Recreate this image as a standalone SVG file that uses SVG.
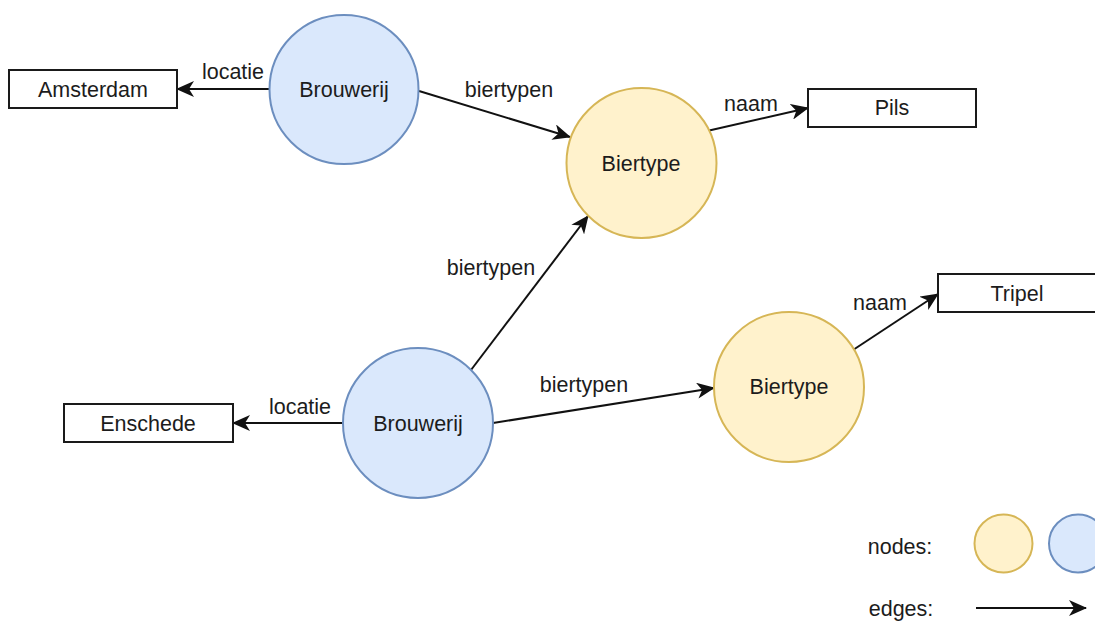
<svg xmlns="http://www.w3.org/2000/svg" width="1095" height="621" viewBox="0 0 1095 621">
  <style>
    text { font-family: "Liberation Sans", Arial, sans-serif; font-size: 21.5px; fill: #1c1c1c; text-anchor: middle; dominant-baseline: central; }
    .brouwerij { fill: #dae8fc; stroke: #6c8ebf; stroke-width: 2; }
    .biertype { fill: #fff2cc; stroke: #d6b656; stroke-width: 2; }
    .value { fill: #ffffff; stroke: #1a1a1a; stroke-width: 2; }
    .edge { fill: none; stroke: #111; stroke-width: 2; marker-end: url(#arrow); }
  </style>
  <defs>
    <marker id="arrow" markerUnits="userSpaceOnUse" markerWidth="18" markerHeight="16" viewBox="0 0 18 16" refX="17" refY="8" orient="auto">
      <path d="M0,0 L18,8 L0,16 L5,8 Z" fill="#111"/>
    </marker>
  </defs>
  <rect width="1095" height="621" fill="#ffffff"/>

  <!-- connectors -->
  <g id="edges">
    <line class="edge" x1="270" y1="89" x2="177" y2="89"/>
    <line class="edge" x1="419" y1="91" x2="570" y2="137"/>
    <line class="edge" x1="707" y1="131" x2="808" y2="108"/>
    <line class="edge" x1="471" y1="370" x2="588" y2="216"/>
    <line class="edge" x1="493" y1="423" x2="714" y2="388"/>
    <line class="edge" x1="853" y1="350" x2="938" y2="294"/>
    <line class="edge" x1="343" y1="423" x2="233" y2="423"/>
    <text x="233" y="72">locatie</text>
    <text x="509" y="90">biertypen</text>
    <text x="751" y="104">naam</text>
    <text x="491" y="268">biertypen</text>
    <text x="584" y="385">biertypen</text>
    <text x="880" y="303">naam</text>
    <text x="300" y="407">locatie</text>
  </g>

  <!-- brewery nodes -->
  <g id="brouwerij-1">
    <circle class="brouwerij" cx="344" cy="89.5" r="74.5"/>
    <text x="344" y="90">Brouwerij</text>
  </g>
  <g id="brouwerij-2">
    <circle class="brouwerij" cx="418" cy="423" r="75"/>
    <text x="418" y="424">Brouwerij</text>
  </g>

  <!-- beer type nodes -->
  <g id="biertype-1">
    <circle class="biertype" cx="641.5" cy="163" r="75"/>
    <text x="641" y="164">Biertype</text>
  </g>
  <g id="biertype-2">
    <circle class="biertype" cx="789" cy="387" r="75"/>
    <text x="789" y="387">Biertype</text>
  </g>

  <!-- literal values -->
  <g id="amsterdam">
    <rect class="value" x="9" y="70" width="168" height="38"/>
    <text x="93" y="90">Amsterdam</text>
  </g>
  <g id="pils">
    <rect class="value" x="808" y="89" width="168" height="38"/>
    <text x="892" y="108">Pils</text>
  </g>
  <g id="tripel">
    <rect class="value" x="938" y="274" width="168" height="38"/>
    <text x="1017" y="294">Tripel</text>
  </g>
  <g id="enschede">
    <rect class="value" x="64" y="404" width="169" height="38"/>
    <text x="148" y="424">Enschede</text>
  </g>

  <!-- legend -->
  <g id="legend">
    <text x="900" y="547">nodes:</text>
    <circle class="biertype" cx="1003.5" cy="543.5" r="29"/>
    <circle class="brouwerij" cx="1078" cy="543.5" r="29"/>
    <text x="901" y="609">edges:</text>
    <line class="edge" x1="976" y1="608" x2="1086" y2="608"/>
  </g>
</svg>
